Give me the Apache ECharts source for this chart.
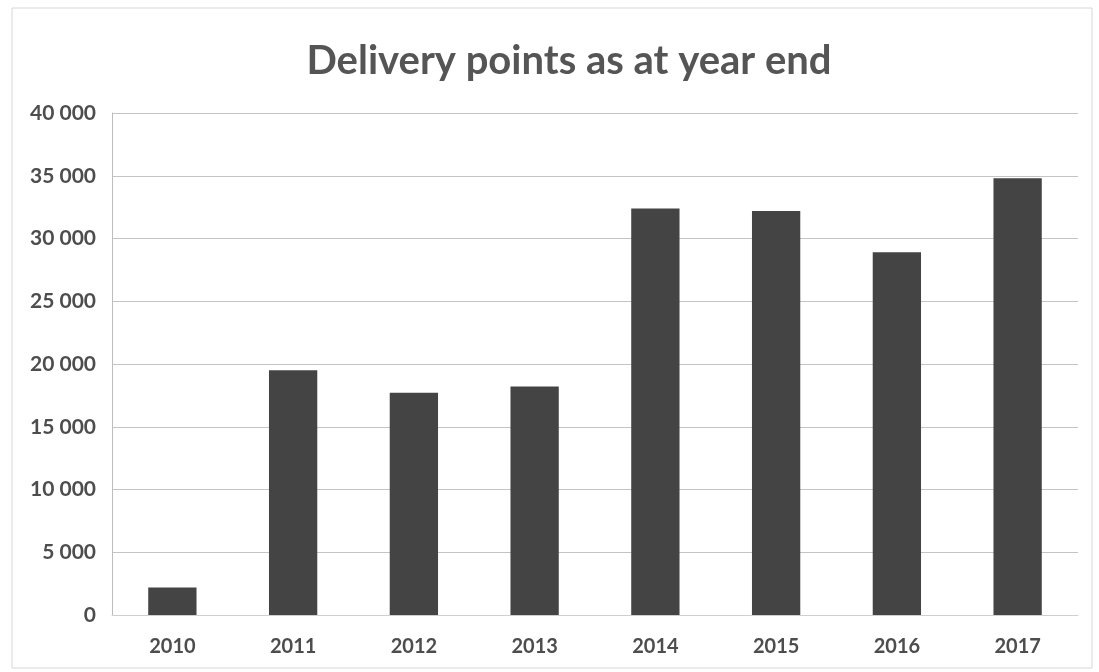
<!DOCTYPE html>
<html>
<head>
<meta charset="utf-8">
<script src="https://cdn.jsdelivr.net/npm/echarts@6/dist/echarts.min.js"></script>
<style>
  html, body { margin: 0; padding: 0; background: #ffffff; }
  #chart { width: 1099px; height: 672px; }
</style>
</head>
<body>
<div id="chart"></div>
<script>
// Delivery points counted at the end of each year
const years = ['2010', '2011', '2012', '2013', '2014', '2015', '2016', '2017'];
const deliveryPoints = [2200, 19500, 17700, 18200, 32400, 32200, 28900, 34800];
const yTicks = [0, 5000, 10000, 15000, 20000, 25000, 30000, 35000, 40000];

const chart = echarts.init(document.getElementById('chart'));

// "40 000" style thousands grouping with a space
function groupThousands(v) {
  return String(v).replace(/\B(?=(\d{3})+(?!\d))/g, ' ');
}

chart.setOption({
  backgroundColor: '#ffffff',
  animation: false,
  title: {
    text: 'Delivery points as at year end',
    left: 564,
    top: 36,
    textAlign: 'center',
    textStyle: {
      fontFamily: 'Lato',
      fontWeight: 'bold',
      fontSize: 40,
      color: '#555555'
    }
  },
  graphic: [{
    type: 'rect',
    shape: { x: 12, y: 8, width: 1080, height: 660 },
    style: { fill: 'none', stroke: '#d6d6d6', lineWidth: 1 },
    silent: true
  }],
  grid: { left: 112, right: 21, top: 113, bottom: 57 },
  xAxis: {
    type: 'category',
    data: years,
    axisLine: { show: true, lineStyle: { color: '#cfcfcf', width: 1 } },
    axisTick: { show: false },
    axisLabel: {
      margin: 22,
      fontFamily: 'Lato',
      fontWeight: 'bold',
      fontSize: 20,
      color: '#4d4d4d'
    }
  },
  yAxis: {
    type: 'value',
    min: yTicks[0],
    max: yTicks[yTicks.length - 1],
    interval: 5000,
    axisLine: { show: true, lineStyle: { color: '#bdbdbd', width: 1 } },
    axisTick: { show: false },
    splitLine: { lineStyle: { color: '#c4c4c4', width: 1.2 } },
    axisLabel: {
      margin: 16,
      fontFamily: 'Lato',
      fontWeight: 'bold',
      fontSize: 21,
      color: '#4d4d4d',
      formatter: groupThousands
    }
  },
  series: [{
    type: 'bar',
    data: deliveryPoints,
    barWidth: '40%',
    itemStyle: { color: '#444444' }
  }]
});
</script>
</body>
</html>
